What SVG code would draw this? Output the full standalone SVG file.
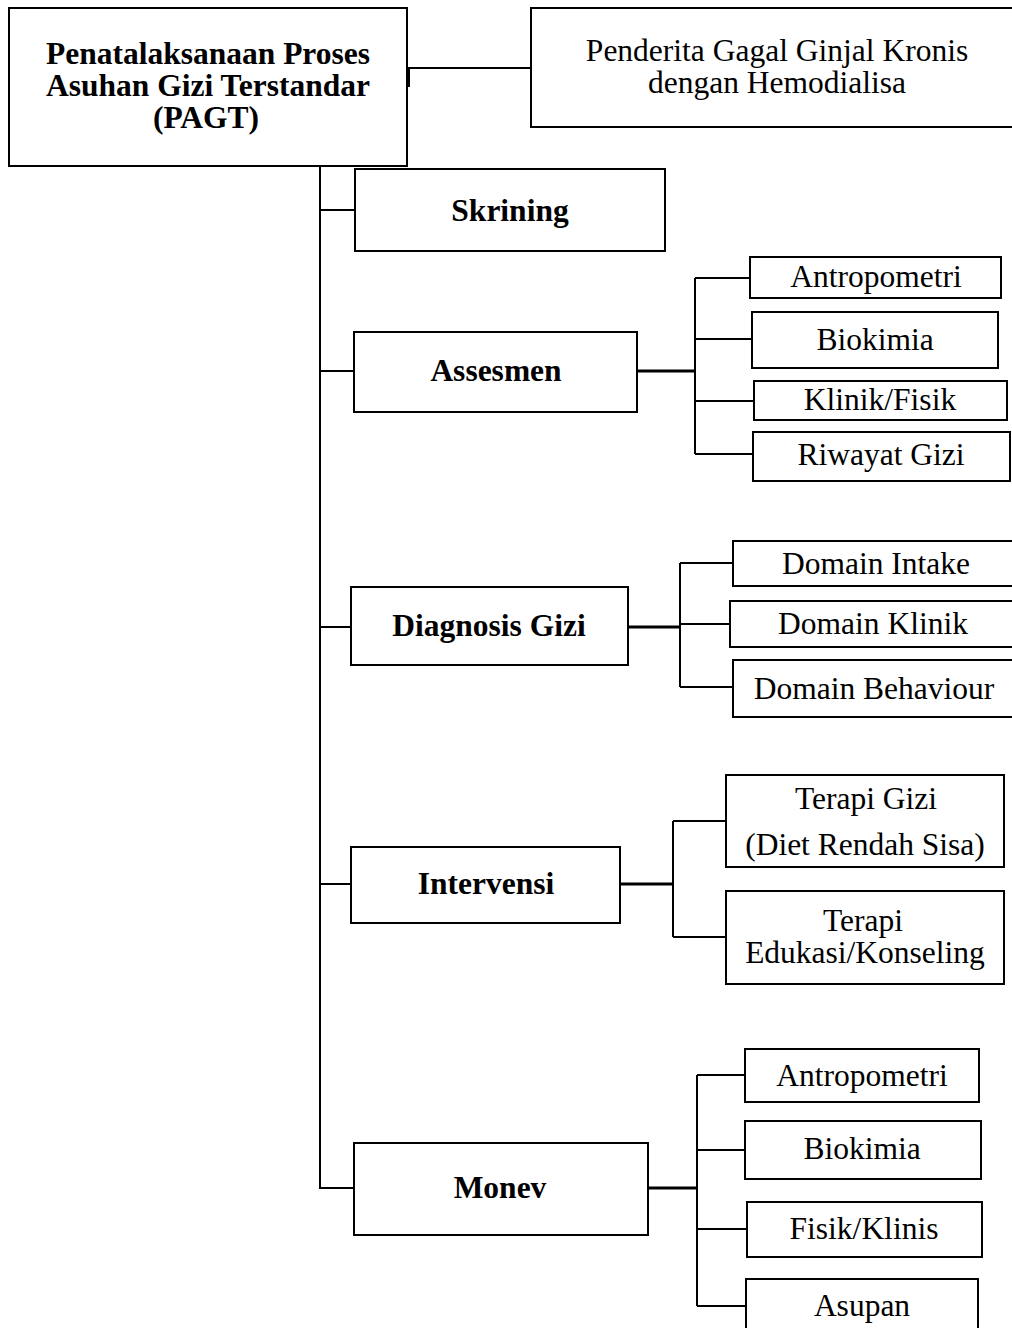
<svg xmlns="http://www.w3.org/2000/svg" width="1012" height="1328" viewBox="0 0 1012 1328">
<style>
rect{fill:#fff;stroke:#000;stroke-width:2}
.c path{fill:none;stroke:#000;stroke-width:2}
.c path.t{stroke-width:3}
text{fill:#000;text-anchor:middle;font-family:'Liberation Serif','Times New Roman',serif}
.b{font-weight:bold;font-size:31.5px}
.r{font-size:31.5px}
</style>
<rect x="0" y="0" width="1012" height="1328" style="stroke:none"/>
<g class="c" id="connectors">
<path d="M408,68 H531 M409,68 V87"/>
<path d="M320,166 V1188 H354"/>
<path d="M320,210 H355 M320,371 H354 M320,627 H351 M320,884 H351"/>
<path class="t" d="M637,371 H695 M628,627 H680 M620,884 H673 M648,1188 H697"/>
<path d="M695,278 V454 M695,278 H750 M695,339 H752 M695,401 H754 M695,454 H753"/>
<path d="M680,563 V687 M680,563 H733 M680,624 H730 M680,687 H733"/>
<path d="M673,821 V937 M673,821 H726 M673,937 H726"/>
<path d="M697,1075 V1306 M697,1075 H745 M697,1150 H745 M697,1229 H747 M697,1306 H746"/>
</g>
<g id="pagt"><rect x="9" y="8" width="398" height="158"/>
<text class="b" x="208" y="64">Penatalaksanaan Proses</text>
<text class="b" x="208" y="96">Asuhan Gizi Terstandar</text>
<text class="b" x="206" y="128">(PAGT)</text></g>
<g id="penderita"><rect x="531" y="8" width="485" height="119"/>
<text class="r" x="777" y="61">Penderita Gagal Ginjal Kronis</text>
<text class="r" x="777" y="93">dengan Hemodialisa</text></g>
<g id="skrining"><rect x="355" y="169" width="310" height="82"/>
<text class="b" x="510" y="221">Skrining</text></g>
<g id="assesmen"><rect x="354" y="332" width="283" height="80"/>
<text class="b" x="496" y="381">Assesmen</text></g>
<g id="antropometri1"><rect x="750" y="257" width="251" height="41"/>
<text class="r" x="876" y="287">Antropometri</text></g>
<g id="biokimia1"><rect x="752" y="312" width="246" height="56"/>
<text class="r" x="875" y="350">Biokimia</text></g>
<g id="klinikfisik"><rect x="754" y="381" width="253" height="39"/>
<text class="r" x="880" y="410">Klinik/Fisik</text></g>
<g id="riwayat"><rect x="753" y="432" width="257" height="49"/>
<text class="r" x="881" y="465">Riwayat Gizi</text></g>
<g id="diagnosis"><rect x="351" y="587" width="277" height="78"/>
<text class="b" x="489" y="636">Diagnosis Gizi</text></g>
<g id="dintake"><rect x="733" y="541" width="283" height="45"/>
<text class="r" x="876" y="574">Domain Intake</text></g>
<g id="dklinik"><rect x="730" y="601" width="286" height="46"/>
<text class="r" x="873" y="634">Domain Klinik</text></g>
<g id="dbehaviour"><rect x="733" y="660" width="283" height="57"/>
<text class="r" x="874" y="699">Domain Behaviour</text></g>
<g id="intervensi"><rect x="351" y="847" width="269" height="76"/>
<text class="b" x="486" y="894">Intervensi</text></g>
<g id="terapigizi"><rect x="726" y="775" width="278" height="92"/>
<text class="r" x="866" y="809">Terapi Gizi</text>
<text class="r" x="865" y="855">(Diet Rendah Sisa)</text></g>
<g id="terapiedukasi"><rect x="726" y="891" width="278" height="93"/>
<text class="r" x="863" y="931">Terapi</text>
<text class="r" x="865" y="963">Edukasi/Konseling</text></g>
<g id="monev"><rect x="354" y="1143" width="294" height="92"/>
<text class="b" x="500" y="1198">Monev</text></g>
<g id="antropometri2"><rect x="745" y="1049" width="234" height="53"/>
<text class="r" x="862" y="1086">Antropometri</text></g>
<g id="biokimia2"><rect x="745" y="1121" width="236" height="58"/>
<text class="r" x="862" y="1159">Biokimia</text></g>
<g id="fisikklinis"><rect x="747" y="1202" width="235" height="55"/>
<text class="r" x="864" y="1239">Fisik/Klinis</text></g>
<g id="asupan"><rect x="746" y="1279" width="232" height="60"/>
<text class="r" x="862" y="1316">Asupan</text></g>
</svg>
